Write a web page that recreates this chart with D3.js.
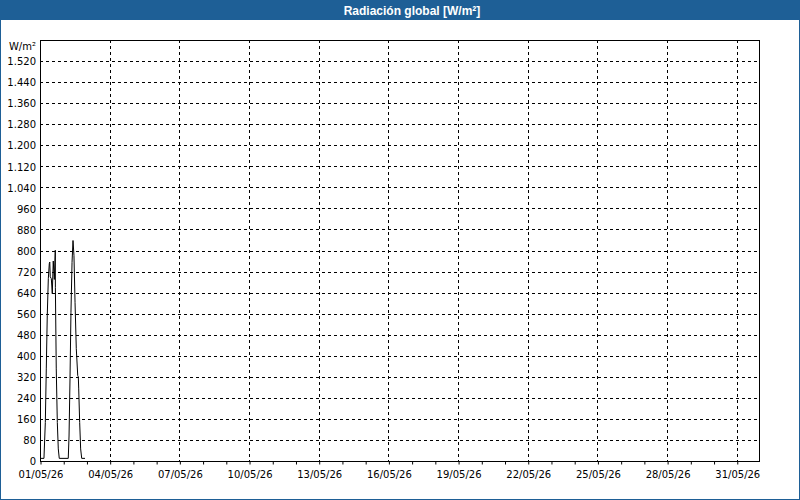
<!DOCTYPE html>
<html>
<head>
<meta charset="utf-8">
<script src="https://cdn.jsdelivr.net/npm/d3@7"></script>
<style>
  body { margin: 0; background: #fff; }
  svg { display: block; }
  .tick text { font-family: "DejaVu Sans", sans-serif; font-size: 10px; fill: #000; }
</style>
</head>
<body>
<svg id="chart" width="800" height="500"></svg>
<script>
// chart title and unit
let title = 'Radiación global [W/m²]';
let unit = 'W/m²';

// time in hours from 01/05/26 00:00, and global radiation in W/m²
let hours = [0, 4.1, 5.5, 6.5, 7.5, 8.6, 9.6, 10.1, 10.6, 11.7, 12.7, 13.7, 14.8, 15.8, 15.9, 16.8,
             17.9, 18.9, 19.9, 29.2, 30.0, 31.0, 32.0, 33.1, 34.1, 35.1, 36.2, 37.5, 39.0, 39.6,
             40.0, 41.0, 42.0, 43.1, 46.5];
let radiation = [10, 10, 146, 350, 552, 693, 750, 756, 700, 693, 636, 760, 690, 801, 660, 350,
                 146, 46, 10, 10, 95, 312, 565, 755, 838, 781, 603, 427, 324, 320,
                 274, 146, 46, 10, 10];

// axis ticks
let yTicks = d3.range(0, 1600, 80);   // 0 .. 1520
let yMax = 1600;
let startDay = new Date(2026, 4, 1);
let endDay = new Date(2026, 5, 1);

let svg = d3.select('#chart');
let w = 800, h = 500;
let mLeft = 40, mRight = 760, mTop = 40, mBottom = 461;

// frame and title bar
svg.append('rect').attr('x', 0.5).attr('y', 0.5).attr('width', w - 1).attr('height', h - 1)
    .attr('fill', '#fff').attr('stroke', '#1e5f96');
svg.append('rect').attr('x', 0).attr('y', 0).attr('width', w).attr('height', 20).attr('fill', '#1e5f96');
svg.append('text').attr('x', 412).attr('y', 14.5).attr('text-anchor', 'middle')
    .attr('font-family', '"Liberation Sans", Arial, sans-serif').attr('font-size', 12)
    .attr('font-weight', 'bold').attr('fill', '#fff').text(title);

let xscale = d3.scaleTime().domain([startDay, endDay]).range([mLeft, mRight]);
let yscale = d3.scaleLinear().domain([0, yMax]).range([mBottom, mTop]);

let loc = d3.formatLocale({decimal: ',', thousands: '.', grouping: [3], currency: ['', '€']});
let yfmt = loc.format(',d');
let dayFmt = d3.timeFormat('%d/%m/%y');
let gridDays = d3.timeDay.range(startDay, endDay).filter((d, i) => i % 3 == 0);

// grid
let grid = svg.append('g');
grid.selectAll('.hgrid').data(yTicks.slice(1)).enter().append('line')
    .attr('x1', mLeft).attr('x2', mRight)
    .attr('y1', d => Math.round(yscale(d)) + 0.5).attr('y2', d => Math.round(yscale(d)) + 0.5)
    .attr('stroke', '#000').attr('stroke-dasharray', '3,3');
grid.selectAll('.vgrid').data(gridDays.slice(1)).enter().append('line')
    .attr('x1', d => Math.round(xscale(d)) + 0.5).attr('x2', d => Math.round(xscale(d)) + 0.5)
    .attr('y1', mTop).attr('y2', mBottom)
    .attr('stroke', '#000').attr('stroke-dasharray', '3,3');

// data line
let line = d3.line()
    .x(d => xscale(new Date(startDay.getTime() + d[0] * 3600e3)))
    .y(d => yscale(d[1]));
svg.append('path')
    .datum(hours.map((t, i) => [t, radiation[i]]))
    .attr('fill', 'none').attr('stroke', '#000').attr('stroke-width', 1)
    .attr('d', line);

// plot border
svg.append('rect').attr('x', mLeft + 0.5).attr('y', mTop + 0.5)
    .attr('width', mRight - mLeft - 1).attr('height', mBottom - mTop)
    .attr('fill', 'none').attr('stroke', '#000');

// axes
let xaxis = d3.axisBottom(xscale)
    .tickValues(d3.timeDay.range(startDay, endDay))
    .tickSize(3).tickPadding(6)
    .tickFormat(d => gridDays.some(g => +g == +d) ? dayFmt(d) : '');
svg.append('g').attr('transform', 'translate(0.5,' + (mBottom + 0.5) + ')').call(xaxis)
    .call(g => g.select('.domain').remove())
    .call(g => g.selectAll('.tick line').attr('stroke', '#000'));

let yaxis = d3.axisLeft(yscale).tickValues(yTicks).tickSize(0).tickPadding(4).tickFormat(yfmt);
svg.append('g').attr('transform', 'translate(' + mLeft + ',0.5)').call(yaxis)
    .call(g => g.select('.domain').remove());

svg.append('text').attr('x', 36).attr('y', 50).attr('text-anchor', 'end')
    .attr('font-family', '"DejaVu Sans", sans-serif').attr('font-size', 10).text(unit);
</script>
</body>
</html>
